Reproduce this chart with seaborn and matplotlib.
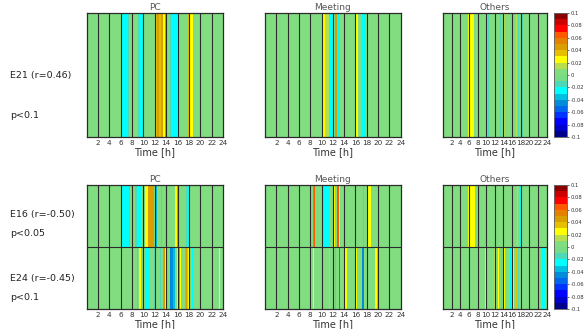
import numpy as np
import matplotlib
matplotlib.use("Agg")
import matplotlib.pyplot as plt
from matplotlib.colors import ListedColormap
import seaborn as sns

sns.set_theme(style="white")
plt.rcParams['font.family'] = ['DejaVu Sans']

# ---- data: (start hour, end hour, correlation value) segments per row ----
activities = ["PC", "Meeting", "Others"]
hours_ticks = list(range(2, 25, 2))
bins_per_hour = 6
baseline = 0.005

E21_PC = [(6.0, 7.33, -0.025), (7.33, 7.5, -0.015), (9.0, 9.17, -0.015), (9.17, 9.83, -0.025),
          (12.0, 12.33, 0.035), (12.33, 12.67, 0.045), (12.67, 13.0, 0.035), (13.0, 13.17, 0.025),
          (13.17, 13.5, 0.04), (13.5, 13.83, 0.025), (13.83, 14.17, 0.045), (14.67, 14.83, -0.015),
          (14.83, 15.83, -0.025), (17.83, 18.17, 0.035), (18.17, 18.67, 0.025)]
E21_Meeting = [(10.0, 10.67, 0.025), (10.67, 11.33, 0.015), (11.33, 12.0, -0.025), (12.0, 12.17, -0.045),
               (12.33, 12.67, 0.045), (12.67, 13.33, -0.025), (16.0, 16.5, 0.025), (17.17, 17.83, -0.025)]
E21_Others = [(5.83, 7.17, 0.025), (10.33, 10.67, -0.015), (11.5, 11.67, 0.035), (12.0, 12.17, -0.025),
              (13.17, 13.33, -0.015), (14.17, 14.33, 0.015), (16.83, 17.17, 0.015), (17.33, 17.5, -0.015),
              (18.17, 18.5, -0.015)]

E16_PC = [(6.0, 7.5, -0.025), (7.5, 7.67, -0.015), (8.5, 8.83, -0.015), (8.83, 9.5, -0.025),
          (10.33, 10.83, 0.025), (10.83, 11.83, 0.04), (12.0, 12.17, -0.045), (12.17, 12.33, -0.035),
          (13.17, 13.33, -0.015), (13.83, 14.33, -0.025), (15.5, 15.83, 0.025), (15.83, 16.17, 0.045),
          (17.5, 17.67, -0.015), (17.67, 18.0, -0.025)]
E16_Meeting = [(8.5, 8.67, 0.055), (8.67, 8.83, 0.065), (10.33, 11.5, -0.025), (12.17, 12.33, 0.025),
               (12.67, 13.0, 0.065), (13.0, 13.33, 0.025), (17.33, 17.5, -0.015), (18.0, 18.83, 0.025)]
E16_Others = [(5.83, 7.5, 0.025), (8.33, 8.67, -0.025), (12.0, 12.17, -0.015), (12.5, 12.67, -0.025),
              (13.33, 13.5, -0.015), (17.17, 17.33, 0.015), (17.83, 18.17, -0.025)]

E24_PC = [(8.83, 9.0, -0.015), (9.17, 9.5, 0.025), (9.5, 9.67, 0.035), (10.33, 11.17, -0.025),
          (11.83, 12.0, -0.015), (12.83, 13.0, -0.015), (13.5, 13.83, 0.04), (13.83, 14.0, 0.025),
          (14.5, 14.67, -0.025), (14.67, 15.17, -0.045), (15.17, 15.5, -0.035), (15.83, 16.17, 0.025),
          (16.17, 16.5, 0.04), (16.5, 16.67, 0.025), (17.33, 17.5, -0.015), (17.5, 17.67, 0.04),
          (17.83, 18.17, 0.025), (18.5, 18.83, -0.025), (23.33, 23.5, 0.025)]
E24_Meeting = [(8.5, 8.67, 0.025), (10.0, 10.33, -0.015), (11.33, 11.5, 0.015), (12.33, 12.5, -0.015),
               (13.0, 13.33, -0.045), (14.17, 14.5, 0.025), (16.0, 16.33, 0.025), (16.33, 16.5, 0.035),
               (17.17, 17.5, -0.045), (19.5, 19.83, 0.025)]
E24_Others = [(9.83, 10.0, 0.025), (11.83, 12.17, 0.015), (12.83, 13.0, 0.025), (13.5, 13.67, -0.015),
              (14.17, 14.33, 0.025), (15.5, 15.67, -0.025), (16.17, 16.33, 0.025), (16.83, 17.17, 0.035),
              (17.33, 17.5, -0.015), (18.17, 18.33, -0.025), (22.83, 23.5, -0.025)]

top_rows = {"PC": [E21_PC], "Meeting": [E21_Meeting], "Others": [E21_Others]}
bottom_rows = {"PC": [E16_PC, E24_PC], "Meeting": [E16_Meeting, E24_Meeting],
               "Others": [E16_Others, E24_Others]}

top_labels = [("E21 (r=0.46)", 75), ("p<0.1", 116)]
bottom_labels = [("E16 (r=-0.50)", 215), ("p<0.05", 233), ("E24 (r=-0.45)", 278), ("p<0.1", 298)]

cbar_ticks = [0.1, 0.08, 0.06, 0.04, 0.02, 0, -0.02, -0.04, -0.06, -0.08, -0.1]

# ---- colormap (20 discrete levels, -0.1 .. 0.1) ----
cmap_colors = [
    (0.0, 0.0, 0.55), (0.0, 0.0, 0.8), (0.0, 0.0, 1.0), (0.0, 0.2, 1.0), (0.0, 0.4, 0.92),
    (0.0, 0.55, 0.85), (0.0, 0.75, 0.88), (0.0, 1.0, 1.0), (0.3, 0.85, 0.72), (0.47, 0.86, 0.52),
    (0.5, 0.87, 0.5), (0.72, 0.87, 0.3), (1.0, 1.0, 0.0), (0.9, 0.75, 0.0), (0.85, 0.62, 0.0),
    (0.9, 0.5, 0.0), (1.0, 0.35, 0.0), (1.0, 0.0, 0.0), (0.8, 0.0, 0.0), (0.55, 0.0, 0.0)]
cmap = ListedColormap(cmap_colors)


def build(rows):
    mat = np.full((len(rows), 24 * bins_per_hour), baseline)
    for r, segs in enumerate(rows):
        for s, e, v in segs:
            mat[r, int(round(s * bins_per_hour)):int(round(e * bins_per_hour))] = v
    return mat


fig = plt.figure(figsize=(5.84, 3.29), dpi=100)
W, H = 584.0, 329.0


def ax_at(l, t, w, h):
    return fig.add_axes([l / W, 1 - (t + h) / H, w / W, h / H])


lefts = [86.7, 265, 443]
widths = [136.3, 135.7, 103.7]
row_tops = [13, 185]
panel_h = 124

for ri, rowset in enumerate([top_rows, bottom_rows]):
    cax = ax_at(554, row_tops[ri], 13, panel_h)
    for ci, act in enumerate(activities):
        ax = ax_at(lefts[ci], row_tops[ri], widths[ci], panel_h)
        mat = build(rowset[act])
        sns.heatmap(mat, ax=ax, cmap=cmap, vmin=-0.1, vmax=0.1,
                    cbar=(ci == 2), cbar_ax=cax if ci == 2 else None,
                    xticklabels=False, yticklabels=False)
        for h in hours_ticks[:-1]:
            ax.axvline(h * bins_per_hour, color="#2b2b2b", lw=0.8)
        for r in range(1, mat.shape[0]):
            ax.axhline(r, color="#2b2b2b", lw=0.8)
        for sp in ax.spines.values():
            sp.set_visible(True)
            sp.set_color("#2b2b2b")
            sp.set_linewidth(0.9)
        ax.set_xticks([h * bins_per_hour for h in hours_ticks])
        ax.set_xticklabels([str(h) for h in hours_ticks], rotation=0, fontsize=5.2, color="#333333")
        ax.tick_params(axis="x", length=0, pad=2)
        ax.set_yticks([])
        ax.set_title(act, fontsize=6.5, color="#555555", pad=2)
        ax.set_xlabel("Time [h]", fontsize=7, color="#333333", labelpad=1)
    cax.set_yticks(cbar_ticks)
    cax.set_yticklabels([("%g" % t) for t in cbar_ticks])
    cax.tick_params(labelsize=3.8, length=1.5, width=0.5, pad=1, colors="#333333")
    for sp in cax.spines.values():
        sp.set_visible(True)
        sp.set_color("#666666")
        sp.set_linewidth(0.5)

for txt, y in top_labels + bottom_labels:
    fig.text(10 / W, 1 - y / H, txt, fontsize=6.8, color="#222222", va="center", ha="left")

fig.savefig("out.png", dpi=100)
